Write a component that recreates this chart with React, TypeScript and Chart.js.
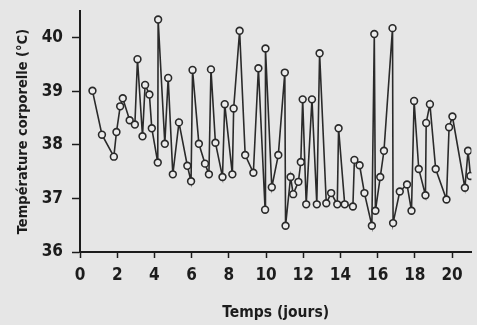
import React, { useEffect, useRef } from "react";
import { Chart, registerables } from "chart.js";

Chart.register(...registerables);

const jours = [
  0.67, 1.18, 1.82, 1.96, 2.16, 2.3, 2.67, 2.95, 3.09, 3.36,
  3.5, 3.73, 3.86, 4.18, 4.2, 4.56, 4.74, 4.99, 5.32, 5.77,
  5.97, 6.05, 6.39, 6.72, 6.93, 7.04, 7.28, 7.66, 7.78, 8.19,
  8.26, 8.58, 8.88, 9.32, 9.59, 9.95, 9.97, 10.31, 10.66, 11.01,
  11.05, 11.32, 11.46, 11.74, 11.87, 11.97, 12.16, 12.47, 12.73, 12.88,
  13.24, 13.5, 13.83, 13.9, 14.23, 14.67, 14.75, 15.03, 15.29, 15.69,
  15.82, 15.88, 16.14, 16.34, 16.8, 16.83, 17.19, 17.58, 17.82, 17.96,
  18.21, 18.57, 18.61, 18.81, 19.12, 19.7, 19.84, 20.02, 20.69, 20.86,
  20.99,
];

const temperatures = [
  39.01, 38.19, 37.78, 38.24, 38.72, 38.87, 38.46, 38.38, 39.6, 38.16,
  39.12, 38.94, 38.31, 37.67, 40.34, 38.02, 39.25, 37.45, 38.42, 37.61,
  37.32, 39.4, 38.02, 37.65, 37.45, 39.41, 38.04, 37.4, 38.76, 37.45,
  38.68, 40.13, 37.81, 37.48, 39.43, 36.79, 39.8, 37.21, 37.81, 39.35,
  36.49, 37.4, 37.08, 37.31, 37.68, 38.85, 36.89, 38.85, 36.89, 39.71,
  36.91, 37.1, 36.89, 38.31, 36.89, 36.85, 37.72, 37.62, 37.1, 36.49,
  40.07, 36.77, 37.4, 37.89, 40.18, 36.54, 37.13, 37.26, 36.77, 38.82,
  37.55, 37.06, 38.41, 38.76, 37.55, 36.98, 38.33, 38.53, 37.2, 37.89,
  37.42,
];

const xTicks = [0, 2, 4, 6, 8, 10, 12, 14, 16, 18, 20];
const yTicks = [36, 37, 38, 39, 40];

const xTitle = "Temps (jours)";
const yTitle = "Température corporelle (°C)";

const FONT = "'DejaVu Sans Condensed', 'Liberation Sans', sans-serif";
const INK = "#1c1c1c";
const PAPER = "#e6e6e6";

export default function App() {
  const ref = useRef<HTMLCanvasElement | null>(null);

  useEffect(() => {
    document.body.style.margin = "0";
    document.body.style.background = PAPER;
    const canvas = ref.current;
    if (!canvas) return;
    const points = jours.map((x, i) => ({ x, y: temperatures[i] }));
    const chart = new Chart(canvas, {
      type: "line",
      data: {
        datasets: [
          {
            data: points,
            borderColor: "#2a2a2a",
            borderWidth: 1.6,
            pointRadius: 3.4,
            pointBorderWidth: 1.6,
            pointBorderColor: "#2a2a2a",
            pointBackgroundColor: "#ececec",
            tension: 0,
          },
        ],
      },
      options: {
        responsive: false,
        animation: false,
        layout: { padding: { top: 11, left: 0, right: 0, bottom: 0 } },
        plugins: {
          legend: { display: false },
          tooltip: { enabled: false },
        },
        scales: {
          x: {
            type: "linear",
            min: 0,
            max: 21.04,
            afterBuildTicks: (s: any) => {
              s.ticks = xTicks.map((v) => ({ value: v }));
            },
            afterFit: (s: any) => {
              s.height = 73;
              s.paddingLeft = 0;
              s.paddingRight = 0;
              s.paddingTop = 0;
              s.paddingBottom = 0;
            },
            border: { display: true, color: INK, width: 2 },
            grid: {
              drawOnChartArea: false,
              drawTicks: true,
              tickLength: 6,
              tickColor: INK,
              tickWidth: 1.5,
            },
            ticks: {
              color: INK,
              padding: 7,
              maxRotation: 0,
              autoSkip: false,
              font: { family: FONT, size: 17, weight: "bold" },
            },
            title: {
              display: true,
              text: xTitle,
              color: INK,
              padding: { top: 0, bottom: 3 },
              font: { family: FONT, size: 15.5, weight: "bold" },
            },
          },
          y: {
            type: "linear",
            min: 36,
            max: 40.5,
            afterBuildTicks: (s: any) => {
              s.ticks = yTicks.map((v) => ({ value: v }));
            },
            afterFit: (s: any) => {
              s.width = 80;
              s.paddingLeft = 0;
              s.paddingRight = 0;
              s.paddingTop = 0;
              s.paddingBottom = 0;
            },
            border: { display: true, color: INK, width: 2 },
            grid: {
              drawOnChartArea: false,
              drawTicks: true,
              tickLength: 8,
              tickColor: INK,
              tickWidth: 1.5,
            },
            ticks: {
              color: INK,
              padding: 9,
              font: { family: FONT, size: 17, weight: "bold" },
            },
            title: {
              display: true,
              text: yTitle,
              color: INK,
              padding: { top: 15, bottom: 0 },
              font: { family: FONT, size: 14.5, weight: "bold" },
            },
          },
        },
      },
    });
    return () => chart.destroy();
  }, []);

  return (
    <div style={{ position: "fixed", left: 0, top: 0, width: 477, height: 325, background: PAPER }}>
      <canvas ref={ref} width={477} height={325} />
    </div>
  );
}
